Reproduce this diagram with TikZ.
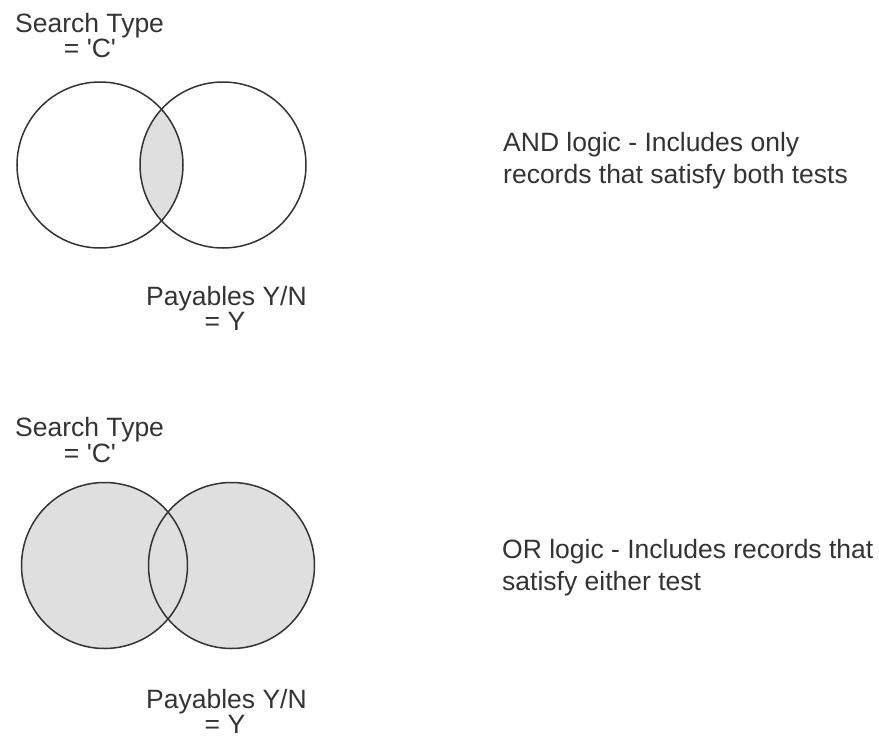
\documentclass[tikz,border=0pt]{standalone}
\usepackage{fontspec}
\setmainfont{Liberation Sans}
\usepackage{tikz}

\begin{document}
\begin{tikzpicture}[x=1pt,y=-1pt,
  lbl/.style={font=\fontsize{26.5}{31}\selectfont,text=black!80,inner sep=0pt},
  ring/.style={draw=black!80,line width=1.5pt},
  shade/.style={fill=gray!25}]
\useasboundingbox (0,0) rectangle (879,737);
% AND: only the overlap is shaded
\begin{scope}
\clip (100,165) circle (83pt);
\fill[shade] (223,165) circle (83pt);
\end{scope}
\draw[ring] (100,165) circle (83pt);
\draw[ring] (223,165) circle (83pt);
\node[lbl,anchor=base west] (andtype) at (15,32) {Search Type};
\node[lbl,anchor=base] (andtypeval) at (90,57) {= \textquotesingle C\textquotesingle};
\node[lbl,anchor=base] (andpay) at (226.5,305) {Payables Y/N};
\node[lbl,anchor=base] (andpayval) at (225,330) {= Y};
\node[lbl,anchor=base west] (andtxt1) at (503,151) {AND logic - Includes only};
\node[lbl,anchor=base west] (andtxt2) at (503,183) {records that satisfy both tests};
% OR: both circles shaded
\fill[shade] (104.5,565.5) circle (83pt);
\fill[shade] (231.5,565.5) circle (83pt);
\draw[ring] (104.5,565.5) circle (83pt);
\draw[ring] (231.5,565.5) circle (83pt);
\node[lbl,anchor=base west] (ortype) at (15,436) {Search Type};
\node[lbl,anchor=base] (ortypeval) at (90,462) {= \textquotesingle C\textquotesingle};
\node[lbl,anchor=base] (orpay) at (226.5,708) {Payables Y/N};
\node[lbl,anchor=base] (orpayval) at (225,733) {= Y};
\node[lbl,anchor=base west] (ortxt1) at (502,558) {OR logic - Includes records that};
\node[lbl,anchor=base west] (ortxt2) at (502,590) {satisfy either test};
\end{tikzpicture}
\end{document}
